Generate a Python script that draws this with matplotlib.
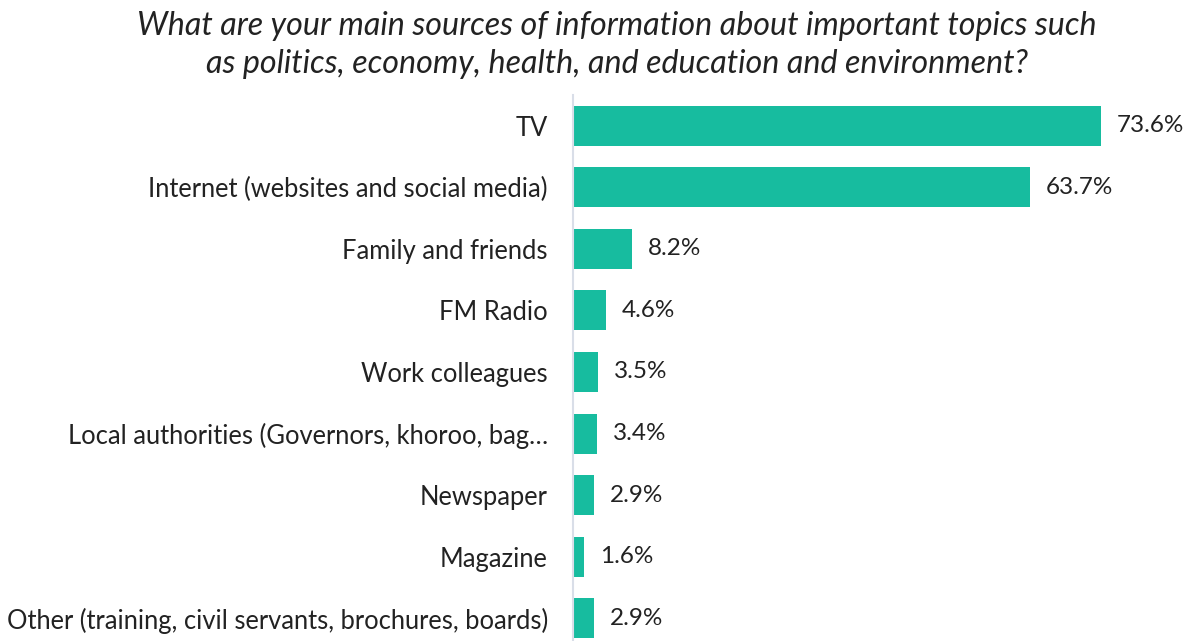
import matplotlib.pyplot as plt

categories = [
    "TV",
    "Internet (websites and social media)",
    "Family and friends",
    "FM Radio",
    "Work colleagues",
    "Local authorities (Governors, khoroo, bag\u2026",
    "Newspaper",
    "Magazine",
    "Other (training, civil servants, brochures, boards)",
]
values = [73.6, 63.7, 8.2, 4.6, 3.5, 3.4, 2.9, 1.6, 2.9]

W, H = 1188, 641
fig = plt.figure(figsize=(W / 100, H / 100), dpi=100)
ax = fig.add_axes([573 / W, -8 / H, (W - 573) / W, (649 - 95) / H])

bar_color = "#17BC9F"
y = list(range(len(categories)))
ax.barh(y, values, height=0.65, color=bar_color)
ax.set_ylim(len(categories) - 0.5, -0.5)
ax.set_xlim(0, 85.8)

for yi, v in zip(y, values):
    ax.text(v + 2.2, yi, f"{v:.1f}%", va="center", ha="left",
            fontsize=17.5, family="Lato", color="#222222")

ax.set_yticks(y)
ax.set_yticklabels(categories, fontsize=18.4, family="Lato", color="#222222")
ax.tick_params(axis="y", length=0, pad=18)
ax.set_xticks([])
for s in ["top", "right", "bottom"]:
    ax.spines[s].set_visible(False)
ax.spines["left"].set_color("#D9DEE8")
ax.spines["left"].set_linewidth(1.5)

fig.text(617 / W, 1 - 45 / H,
         "What are your main sources of information about important topics such\n"
         "as politics, economy, health, and education and environment?",
         ha="center", va="center", fontsize=23.2, family="Lato", style="italic",
         color="#222222", linespacing=1.32)

fig.savefig("out.png", dpi=100)
